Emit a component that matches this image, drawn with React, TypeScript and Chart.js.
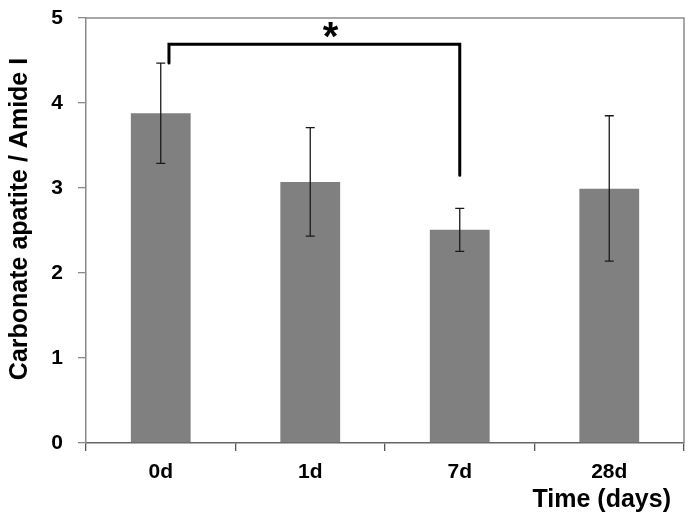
import React, { useEffect, useRef } from "react";
import { Chart, registerables } from "chart.js";

Chart.register(...registerables);

const categories = ["0d", "1d", "7d", "28d"];
const means = [3.88, 3.07, 2.51, 2.99];
const errUpper = [4.47, 3.71, 2.76, 3.85];
const errLower = [3.29, 2.435, 2.255, 2.14];
const yMin = 0;
const yMax = 5;
const yStep = 1;
const bracketFrom = 0.055; // category position of left end (0d)
const bracketTo = 2; // category position of right end (7d)
const bracketLevels = [4.47, 4.69, 3.15]; // left end, top, right end
const sigLabel = "*";
const sigPos = 1.135; // category position of the asterisk
const sigLevel = 4.86;
const yTitle = "Carbonate apatite / Amide I";
const xTitle = "Time (days)";

const FONT = "'Liberation Sans', Arial, sans-serif";

export default function App() {
  const ref = useRef<HTMLCanvasElement | null>(null);

  useEffect(() => {
    document.body.style.margin = "0";
    const canvas = ref.current;
    if (!canvas) return;

    const overlay = {
      id: "overlay",
      afterDatasetsDraw(chart: any) {
        const ctx = chart.ctx;
        const xs = chart.scales.x;
        const ys = chart.scales.y;
        const area = chart.chartArea;
        const catW = xs.getPixelForValue(1) - xs.getPixelForValue(0);
        const posX = (p: number) => xs.getPixelForValue(0) + p * catW;

        ctx.save();
        // frame (top and right)
        ctx.strokeStyle = "#8a8a8a";
        ctx.lineWidth = 1.5;
        ctx.beginPath();
        ctx.moveTo(area.left, area.top);
        ctx.lineTo(area.right, area.top);
        ctx.lineTo(area.right, area.bottom);
        ctx.stroke();

        // error bars
        ctx.strokeStyle = "#1a1a1a";
        ctx.lineWidth = 1.3;
        const cap = 4.5;
        means.forEach((_, i) => {
          const x = xs.getPixelForValue(i);
          const yt = ys.getPixelForValue(errUpper[i]);
          const yb = ys.getPixelForValue(errLower[i]);
          ctx.beginPath();
          ctx.moveTo(x, yt);
          ctx.lineTo(x, yb);
          ctx.moveTo(x - cap, yt);
          ctx.lineTo(x + cap, yt);
          ctx.moveTo(x - cap, yb);
          ctx.lineTo(x + cap, yb);
          ctx.stroke();
        });

        // significance bracket
        ctx.strokeStyle = "#000";
        ctx.lineWidth = 3;
        ctx.lineCap = "round";
        ctx.lineJoin = "miter";
        const lx = posX(bracketFrom);
        const rx = posX(bracketTo);
        ctx.beginPath();
        ctx.moveTo(lx, ys.getPixelForValue(bracketLevels[0]));
        ctx.lineTo(lx, ys.getPixelForValue(bracketLevels[1]));
        ctx.lineTo(rx, ys.getPixelForValue(bracketLevels[1]));
        ctx.lineTo(rx, ys.getPixelForValue(bracketLevels[2]));
        ctx.stroke();

        // asterisk
        ctx.fillStyle = "#000";
        ctx.font = `bold 40px ${FONT}`;
        ctx.textAlign = "center";
        ctx.textBaseline = "alphabetic";
        const m = ctx.measureText(sigLabel);
        const cy = ys.getPixelForValue(sigLevel);
        const asc = m.actualBoundingBoxAscent;
        const desc = m.actualBoundingBoxDescent;
        ctx.fillText(sigLabel, posX(sigPos), cy + (asc - desc) / 2);

        // x title
        ctx.font = `bold 25px ${FONT}`;
        ctx.textAlign = "right";
        ctx.textBaseline = "alphabetic";
        ctx.fillText(xTitle, area.right - 13, 507);

        // y title
        ctx.translate(26.5, (area.top + area.bottom) / 2 - 11.5);
        ctx.rotate(-Math.PI / 2);
        ctx.textAlign = "center";
        ctx.fillText(yTitle, 0, 0);
        ctx.restore();
      },
    };

    const chart = new Chart(canvas, {
      type: "bar",
      data: {
        labels: categories,
        datasets: [
          {
            data: means,
            backgroundColor: "#808080",
            borderWidth: 0,
            categoryPercentage: 1,
            barPercentage: 0.4,
          },
        ],
      },
      options: {
        responsive: false,
        animation: false,
        events: [],
        layout: { padding: { top: 18, right: 10, left: 0, bottom: 0 } },
        plugins: { legend: { display: false }, tooltip: { enabled: false } },
        scales: {
          x: {
            grid: {
              offset: true,
              drawOnChartArea: false,
              drawTicks: true,
              tickLength: 8,
              color: "#555",
              lineWidth: 1.3,
            },
            border: { display: true, color: "#666", width: 1.5 },
            ticks: {
              color: "#000",
              font: { family: FONT, size: 21, weight: "bold" },
              padding: 9,
              maxRotation: 0,
            },
            afterFit: (s: any) => {
              s.height = 78;
              s.paddingLeft = 0;
              s.paddingRight = 0;
            },
          },
          y: {
            min: yMin,
            max: yMax,
            grid: {
              drawOnChartArea: false,
              drawTicks: true,
              tickLength: 8,
              color: "#8a8a8a",
              lineWidth: 1.3,
            },
            border: { display: true, color: "#8a8a8a", width: 1.5 },
            ticks: {
              stepSize: yStep,
              color: "#000",
              font: { family: FONT, size: 21, weight: "bold" },
              padding: 15,
            },
            afterFit: (s: any) => {
              s.width = 86;
              s.paddingTop = 0;
              s.paddingBottom = 0;
            },
          },
        },
      },
      plugins: [overlay],
    });

    return () => chart.destroy();
  }, []);

  return (
    <div style={{ width: 694, height: 521, position: "relative" }}>
      <canvas ref={ref} width={694} height={521} />
    </div>
  );
}
